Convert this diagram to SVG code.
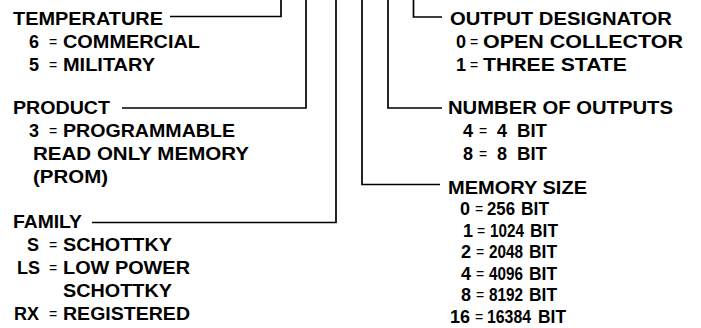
<svg xmlns="http://www.w3.org/2000/svg" width="701" height="328" viewBox="0 0 701 328">
<style>
text{font-family:"Liberation Sans",Arial,sans-serif;font-size:18px;font-weight:bold;fill:#000}
text.eq{font-weight:normal;font-size:14px}
text.k{text-anchor:end}
.ln{fill:none;stroke:#000;stroke-width:1.7}
</style>
<rect width="701" height="328" fill="#fff"/>
<g id="connectors">
<path class="ln" d="M170 16.5H281V0"/>
<path class="ln" d="M122 108H306V0"/>
<path class="ln" d="M92 222.5H336V0"/>
<path class="ln" d="M362 0V184.5H440"/>
<path class="ln" d="M388 0V108H442"/>
<path class="ln" d="M413.5 0V17H442"/>
</g>
<g id="temperature">
<text x="13" y="25" textLength="150" lengthAdjust="spacingAndGlyphs">TEMPERATURE</text>
<text class="k" x="39" y="48">6</text><text class="eq" x="49" y="47">=</text><text x="63" y="48" textLength="137" lengthAdjust="spacingAndGlyphs">COMMERCIAL</text>
<text class="k" x="39" y="71">5</text><text class="eq" x="49" y="70">=</text><text x="63" y="71" textLength="92" lengthAdjust="spacingAndGlyphs">MILITARY</text>
</g>
<g id="product">
<text x="13" y="114" textLength="97" lengthAdjust="spacingAndGlyphs">PRODUCT</text>
<text class="k" x="39" y="137">3</text><text class="eq" x="49" y="136">=</text><text x="63" y="137" textLength="172" lengthAdjust="spacingAndGlyphs">PROGRAMMABLE</text>
<text x="33" y="160" textLength="216" lengthAdjust="spacingAndGlyphs">READ ONLY MEMORY</text>
<text x="33" y="183" textLength="75" lengthAdjust="spacingAndGlyphs">(PROM)</text>
</g>
<g id="family">
<text x="13" y="228" textLength="69" lengthAdjust="spacingAndGlyphs">FAMILY</text>
<text class="k" x="39" y="251">S</text><text class="eq" x="49" y="250">=</text><text x="63" y="251" textLength="109" lengthAdjust="spacingAndGlyphs">SCHOTTKY</text>
<text class="k" x="40" y="274">LS</text><text class="eq" x="49" y="273">=</text><text x="63" y="274" textLength="127" lengthAdjust="spacingAndGlyphs">LOW POWER</text>
<text x="63" y="297" textLength="109" lengthAdjust="spacingAndGlyphs">SCHOTTKY</text>
<text class="k" x="39" y="320">RX</text><text class="eq" x="49" y="319">=</text><text x="63" y="320" textLength="127" lengthAdjust="spacingAndGlyphs">REGISTERED</text>
</g>
<g id="output-designator">
<text x="450" y="25" textLength="222" lengthAdjust="spacingAndGlyphs">OUTPUT DESIGNATOR</text>
<text class="k" x="466" y="48">0</text><text class="eq" x="470" y="47">=</text><text x="483" y="48" textLength="200" lengthAdjust="spacingAndGlyphs">OPEN COLLECTOR</text>
<text class="k" x="466" y="71">1</text><text class="eq" x="470" y="70">=</text><text x="483" y="71" textLength="144" lengthAdjust="spacingAndGlyphs">THREE STATE</text>
</g>
<g id="number-of-outputs">
<text x="448" y="114" textLength="225" lengthAdjust="spacingAndGlyphs">NUMBER OF OUTPUTS</text>
<text class="k" x="473" y="137">4</text><text class="eq" x="479" y="136">=</text><text x="497" y="137">4</text><text x="517" y="137" textLength="30" lengthAdjust="spacingAndGlyphs">BIT</text>
<text class="k" x="473" y="160">8</text><text class="eq" x="479" y="159">=</text><text x="497" y="160">8</text><text x="517" y="160" textLength="30" lengthAdjust="spacingAndGlyphs">BIT</text>
</g>
<g id="memory-size">
<text x="448" y="194" textLength="139" lengthAdjust="spacingAndGlyphs">MEMORY SIZE</text>
<text class="k" x="470" y="215">0</text><text class="eq" x="475" y="214">=</text><text x="487" y="215" textLength="28" lengthAdjust="spacingAndGlyphs">256</text><text x="521" y="215" textLength="28" lengthAdjust="spacingAndGlyphs">BIT</text>
<text class="k" x="473" y="237">1</text><text class="eq" x="477" y="236">=</text><text x="490" y="237" textLength="34" lengthAdjust="spacingAndGlyphs">1024</text><text x="530" y="237" textLength="28" lengthAdjust="spacingAndGlyphs">BIT</text>
<text class="k" x="471" y="258">2</text><text class="eq" x="476" y="257">=</text><text x="489" y="258" textLength="34" lengthAdjust="spacingAndGlyphs">2048</text><text x="529" y="258" textLength="28" lengthAdjust="spacingAndGlyphs">BIT</text>
<text class="k" x="471" y="280">4</text><text class="eq" x="476" y="279">=</text><text x="489" y="280" textLength="34" lengthAdjust="spacingAndGlyphs">4096</text><text x="529" y="280" textLength="28" lengthAdjust="spacingAndGlyphs">BIT</text>
<text class="k" x="471" y="301">8</text><text class="eq" x="476" y="300">=</text><text x="489" y="301" textLength="34" lengthAdjust="spacingAndGlyphs">8192</text><text x="529" y="301" textLength="28" lengthAdjust="spacingAndGlyphs">BIT</text>
<text class="k" x="470" y="323">16</text><text class="eq" x="475" y="322">=</text><text x="487" y="323" textLength="44" lengthAdjust="spacingAndGlyphs">16384</text><text x="538" y="323" textLength="28" lengthAdjust="spacingAndGlyphs">BIT</text>
</g>
</svg>
